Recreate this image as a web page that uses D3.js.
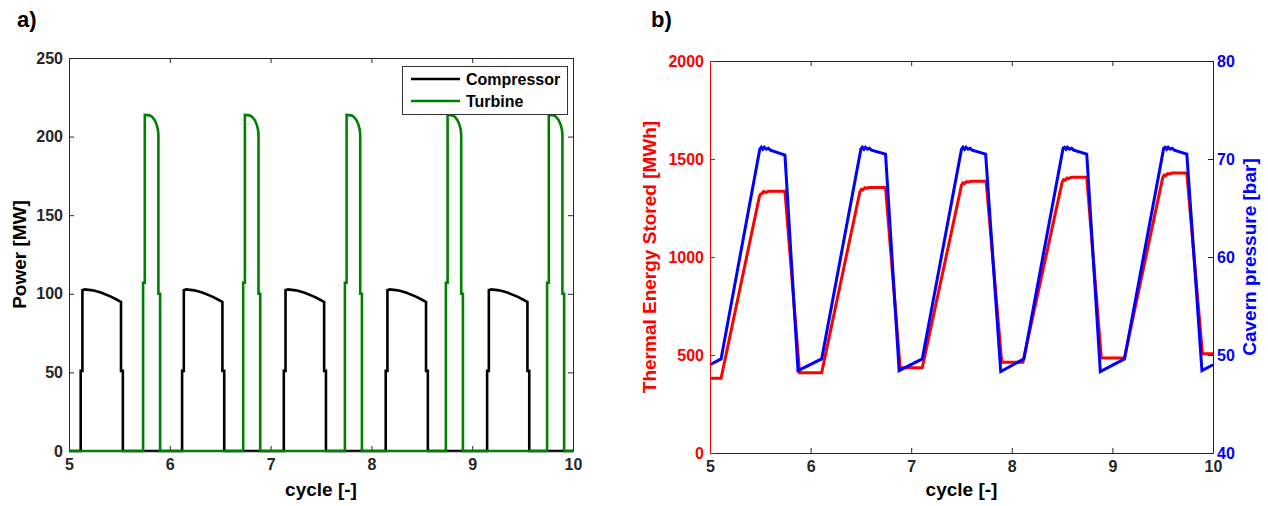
<!DOCTYPE html>
<html>
<head>
<meta charset="utf-8">
<script src="https://cdn.jsdelivr.net/npm/d3@7/dist/d3.min.js"></script>
<style>
  html, body { margin: 0; padding: 0; background: #fff; }
  svg { display: block; font-family: "Liberation Sans", Arial, sans-serif; font-weight: bold; }
</style>
</head>
<body>
<svg id="chart" width="1268" height="506"></svg>
<script>
// ---- Panel a): power of compressor and turbine over cycles [cycle, MW] ----
const compressorPower = [
  [5.000,0],
  [5.116,0],[5.116,51],[5.133,51],[5.133,102.3],[5.156,102.8],[5.236,102.2],[5.316,100.8],[5.416,98.2],[5.476,96.2],[5.516,94.8],[5.516,51],[5.534,51],[5.534,0],
  [6.122,0],[6.122,51],[6.139,51],[6.139,102.3],[6.162,102.8],[6.242,102.2],[6.322,100.8],[6.422,98.2],[6.482,96.2],[6.522,94.8],[6.522,51],[6.540,51],[6.540,0],
  [7.131,0],[7.131,51],[7.148,51],[7.148,102.3],[7.171,102.8],[7.251,102.2],[7.331,100.8],[7.431,98.2],[7.491,96.2],[7.531,94.8],[7.531,51],[7.549,51],[7.549,0],
  [8.142,0],[8.142,51],[8.159,51],[8.159,102.3],[8.182,102.8],[8.262,102.2],[8.342,100.8],[8.442,98.2],[8.502,96.2],[8.542,94.8],[8.542,51],[8.560,51],[8.560,0],
  [9.148,0],[9.148,51],[9.165,51],[9.165,102.3],[9.188,102.8],[9.268,102.2],[9.348,100.8],[9.448,98.2],[9.508,96.2],[9.548,94.8],[9.548,51],[9.566,51],[9.566,0],
  [10.000,0]
];
const turbinePower = [
  [5.000,0],
  [5.735,0],[5.735,107],[5.752,107],[5.752,213.8],[5.800,213.5],[5.825,212.5],[5.850,210.5],[5.870,207.5],[5.883,204],[5.887,201],[5.887,100],[5.904,100],[5.904,0],
  [6.728,0],[6.728,107],[6.745,107],[6.745,213.8],[6.793,213.5],[6.818,212.5],[6.843,210.5],[6.863,207.5],[6.876,204],[6.880,201],[6.880,100],[6.897,100],[6.897,0],
  [7.737,0],[7.737,107],[7.754,107],[7.754,213.8],[7.802,213.5],[7.827,212.5],[7.852,210.5],[7.872,207.5],[7.885,204],[7.889,201],[7.889,100],[7.906,100],[7.906,0],
  [8.739,0],[8.739,107],[8.756,107],[8.756,213.8],[8.804,213.5],[8.829,212.5],[8.854,210.5],[8.874,207.5],[8.887,204],[8.891,201],[8.891,100],[8.908,100],[8.908,0],
  [9.743,0],[9.743,107],[9.760,107],[9.760,213.8],[9.808,213.5],[9.833,212.5],[9.858,210.5],[9.878,207.5],[9.891,204],[9.895,201],[9.895,100],[9.912,100],[9.912,0],
  [10.000,0]
];

// ---- Panel b): thermal energy stored [MWh] and cavern pressure [bar] ----
const thermalEnergy = [
  [5.000,381],[5.110,381],[5.490,1307],[5.500,1320],[5.520,1325],[5.530,1333],[5.560,1330],[5.580,1335],[5.745,1335],
  [5.890,410],[6.110,410],[6.490,1333],[6.505,1345],[6.520,1342],[6.540,1353],[6.560,1350],[6.580,1355],[6.745,1355],
  [6.890,435],[7.110,435],[7.500,1367],[7.515,1378],[7.530,1375],[7.550,1384],[7.570,1382],[7.590,1386],[7.745,1386],
  [7.900,463],[8.110,463],[8.500,1381],[8.515,1395],[8.530,1392],[8.550,1403],[8.570,1400],[8.590,1407],[8.745,1407],
  [8.890,485],[9.120,485],[9.500,1405],[9.515,1418],[9.530,1415],[9.550,1425],[9.570,1423],[9.590,1428],[9.740,1428],
  [9.895,507],[10.000,507]
];
const cavernPressure = [
  [5.000,49.0],[5.110,49.6],[5.495,71.0],[5.510,71.2],[5.525,71.0],[5.540,71.2],[5.560,71.0],[5.580,71.1],[5.600,70.9],[5.745,70.4],
  [5.875,48.4],[6.110,49.6],[6.500,71.0],[6.515,71.2],[6.530,71.0],[6.545,71.2],[6.565,71.0],[6.585,71.1],[6.605,70.9],[6.745,70.5],
  [6.880,48.4],[7.110,49.6],[7.500,71.0],[7.515,71.2],[7.530,71.0],[7.545,71.2],[7.565,71.0],[7.585,71.1],[7.605,70.9],[7.740,70.5],
  [7.890,48.3],[8.120,49.6],[8.510,71.1],[8.525,71.2],[8.540,71.0],[8.555,71.2],[8.575,71.0],[8.595,71.1],[8.615,70.9],[8.745,70.5],
  [8.880,48.3],[9.120,49.6],[9.510,71.1],[9.525,71.2],[9.540,71.0],[9.555,71.2],[9.575,71.0],[9.595,71.1],[9.615,70.9],[9.740,70.5],
  [9.890,48.4],[10.000,49.0]
];

// ---- Axis ticks and labels ----
const cycleTicks = [5, 6, 7, 8, 9, 10];
const powerTicks = [0, 50, 100, 150, 200, 250];
const energyTicks = [0, 500, 1000, 1500, 2000];
const pressureTicks = [40, 50, 60, 70, 80];
const legendNames = ["Compressor", "Turbine"];

const svg = d3.select("#chart");
svg.append("rect").attr("width", 1268).attr("height", 506).attr("fill", "#fff");

const TICK = 5;
const FONT_TICK = 16;
const FONT_LABEL = 19;

function styleAxis(g, color) {
  g.selectAll("path.domain").attr("stroke", color).attr("stroke-width", 1);
  g.selectAll(".tick line").attr("stroke", color).attr("stroke-width", 1);
  g.selectAll(".tick text")
    .attr("fill", color)
    .attr("font-size", FONT_TICK)
    .attr("font-weight", "bold")
    .attr("font-family", "'Liberation Sans', Arial, sans-serif");
}

// ================= Panel a =================
const A = { left: 69, right: 573, top: 58, bottom: 451 };
const xA = d3.scaleLinear().domain([5, 10]).range([A.left, A.right]);
const yA = d3.scaleLinear().domain([0, 250]).range([A.bottom, A.top]);

const gA = svg.append("g");

// lines: compressor underneath, turbine on top
const lineA = d3.line().x(d => xA(d[0])).y(d => yA(d[1]));
gA.append("path").datum(compressorPower)
  .attr("d", lineA).attr("fill", "none").attr("stroke", "#000")
  .attr("stroke-width", 2.6).attr("stroke-linejoin", "miter");

// axes (ticks point inward)
gA.append("g").attr("transform", `translate(0,${A.bottom})`)
  .call(d3.axisBottom(xA).tickValues(cycleTicks).tickFormat(d3.format("d"))
        .tickSizeInner(-TICK).tickSizeOuter(0).tickPadding(8))
  .call(g => styleAxis(g, "#262626"));
gA.append("g").attr("transform", `translate(0,${A.top})`)
  .call(d3.axisTop(xA).tickValues(cycleTicks).tickFormat("")
        .tickSizeInner(-TICK).tickSizeOuter(0))
  .call(g => styleAxis(g, "#262626"));
gA.append("g").attr("transform", `translate(${A.left},0)`)
  .call(d3.axisLeft(yA).tickValues(powerTicks).tickFormat(d3.format("d"))
        .tickSizeInner(-TICK).tickSizeOuter(0).tickPadding(6))
  .call(g => styleAxis(g, "#262626"));
gA.append("g").attr("transform", `translate(${A.right},0)`)
  .call(d3.axisRight(yA).tickValues(powerTicks).tickFormat("")
        .tickSizeInner(-TICK).tickSizeOuter(0))
  .call(g => styleAxis(g, "#262626"));

// turbine drawn last so its zero line sits over the bottom axis
gA.append("path").datum(turbinePower)
  .attr("d", lineA).attr("fill", "none").attr("stroke", "#008000")
  .attr("stroke-width", 2.6).attr("stroke-linejoin", "miter");

// axis titles
gA.append("text").attr("x", (A.left + A.right) / 2).attr("y", 496)
  .attr("text-anchor", "middle").attr("font-size", FONT_LABEL).text("cycle [-]");
gA.append("text")
  .attr("transform", `translate(26,${(A.top + A.bottom) / 2}) rotate(-90)`)
  .attr("text-anchor", "middle").attr("font-size", FONT_LABEL).text("Power [MW]");
gA.append("text").attr("x", 17).attr("y", 27).attr("font-size", 22).text("a)");

// legend
const legColors = ["#000", "#008000"];
const leg = gA.append("g");
leg.append("rect").attr("x", 402.5).attr("y", 66.5).attr("width", 165).attr("height", 48)
  .attr("fill", "#fff").attr("stroke", "#333").attr("stroke-width", 1);
legendNames.forEach((name, i) => {
  const yy = 79 + i * 22;
  leg.append("line").attr("x1", 411).attr("x2", 460).attr("y1", yy).attr("y2", yy)
    .attr("stroke", legColors[i]).attr("stroke-width", 2.6);
  leg.append("text").attr("x", 466).attr("y", yy + 5.5).attr("font-size", 16).text(name);
});

// ================= Panel b =================
const B = { left: 710, right: 1213, top: 61, bottom: 453 };
const xB = d3.scaleLinear().domain([5, 10]).range([B.left, B.right]);
const yE = d3.scaleLinear().domain([0, 2000]).range([B.bottom, B.top]);
const yP = d3.scaleLinear().domain([40, 80]).range([B.bottom, B.top]);

const gB = svg.append("g");

gB.append("path").datum(thermalEnergy)
  .attr("d", d3.line().x(d => xB(d[0])).y(d => yE(d[1])))
  .attr("fill", "none").attr("stroke", "#ff0000").attr("stroke-width", 3);
gB.append("path").datum(cavernPressure)
  .attr("d", d3.line().x(d => xB(d[0])).y(d => yP(d[1])))
  .attr("fill", "none").attr("stroke", "#0000ff").attr("stroke-width", 3);

gB.append("g").attr("transform", `translate(0,${B.bottom})`)
  .call(d3.axisBottom(xB).tickValues(cycleTicks).tickFormat(d3.format("d"))
        .tickSizeInner(-TICK).tickSizeOuter(0).tickPadding(8))
  .call(g => styleAxis(g, "#262626"));
gB.append("g").attr("transform", `translate(0,${B.top})`)
  .call(d3.axisTop(xB).tickValues(cycleTicks).tickFormat("")
        .tickSizeInner(-TICK).tickSizeOuter(0))
  .call(g => styleAxis(g, "#262626"));
gB.append("g").attr("transform", `translate(${B.left},0)`)
  .call(d3.axisLeft(yE).tickValues(energyTicks).tickFormat(d3.format("d"))
        .tickSizeInner(-TICK).tickSizeOuter(0).tickPadding(6))
  .call(g => styleAxis(g, "#ff0000"));
gB.append("g").attr("transform", `translate(${B.right},0)`)
  .call(d3.axisRight(yP).tickValues(pressureTicks).tickFormat(d3.format("d"))
        .tickSizeInner(-TICK).tickSizeOuter(0).tickPadding(4))
  .call(g => styleAxis(g, "#0000ff"));

gB.append("text").attr("x", (B.left + B.right) / 2).attr("y", 496)
  .attr("text-anchor", "middle").attr("font-size", FONT_LABEL).text("cycle [-]");
gB.append("text")
  .attr("transform", `translate(656,${(B.top + B.bottom) / 2}) rotate(-90)`)
  .attr("text-anchor", "middle").attr("font-size", FONT_LABEL).attr("fill", "#ff0000")
  .text("Thermal Energy Stored [MWh]");
gB.append("text")
  .attr("transform", `translate(1256,${(B.top + B.bottom) / 2}) rotate(-90)`)
  .attr("text-anchor", "middle").attr("font-size", FONT_LABEL).attr("fill", "#0000ff")
  .text("Cavern pressure [bar]");
gB.append("text").attr("x", 651).attr("y", 27).attr("font-size", 22).text("b)");
</script>
</body>
</html>
